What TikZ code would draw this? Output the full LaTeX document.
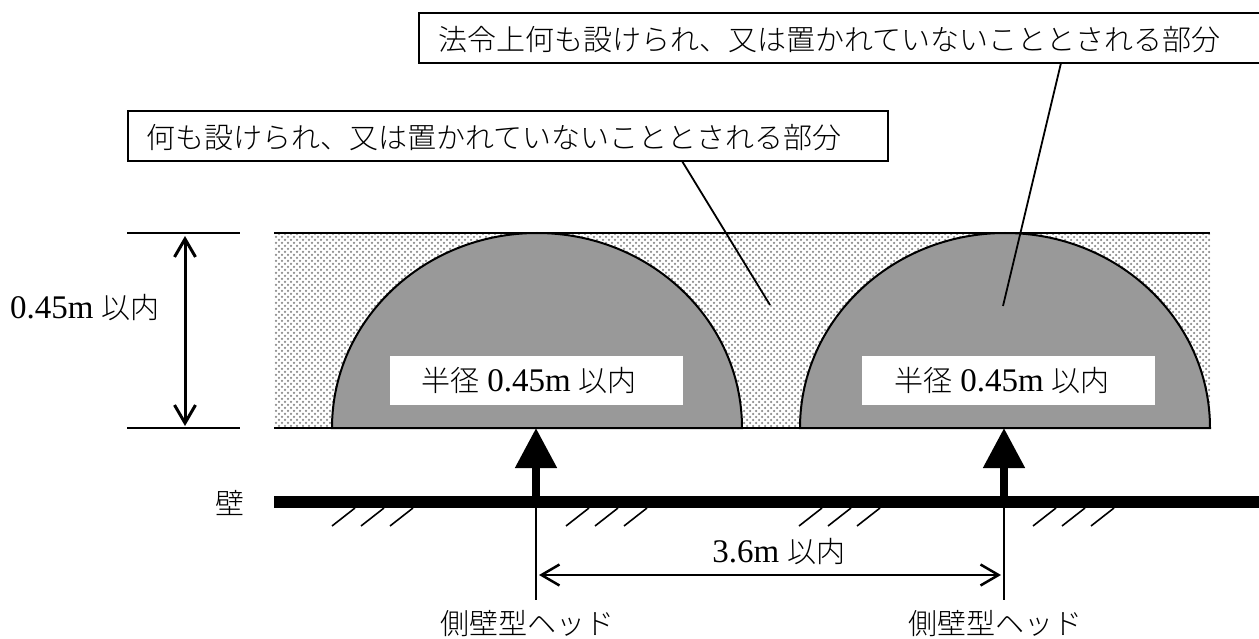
\documentclass[tikz,border=0pt]{standalone}
\usepackage{fontspec}
\setmainfont{Liberation Serif}
\newfontfamily\cjk[UprightFont=* Light]{Noto Sans CJK JP}
\usetikzlibrary{arrows.meta,patterns.meta}
\newcommand{\jp}[1]{{\fontsize{29}{29}\selectfont\cjk #1}}
\tikzset{
    label box/.style={draw,line width=2,fill=white,anchor=west,minimum height=50,inner xsep=0,inner ysep=0,text depth=0},
    white box/.style={fill=white,minimum width=293,minimum height=49,font=\fontsize{33}{33}\selectfont},
    plain text/.style={font=\fontsize{33}{33}\selectfont},
    dim line/.style={line width=2.5},
    dim arrow/.style={line width=3,{Straight Barb[length=18,width=21,line width=3]}-{Straight Barb[length=18,width=21,line width=3]}},
    span arrow/.style={line width=2.2,{Straight Barb[length=18,width=21,line width=2.5]}-{Straight Barb[length=18,width=21,line width=2.5]}},
    head arrow/.style={line width=8,-{Triangle[length=40,width=40]},shorten >=0},
    hatch/.style={line width=1.6},
}
\begin{document}
\begin{tikzpicture}[x=1pt,y=-1pt]
    \useasboundingbox (0,0) rectangle (1259,639);

    % band and dome areas
    \coordinate (bandtl) at (274,233);
    \coordinate (bandbr) at (1210,428);
    \fill[pattern={Dots[distance=6pt,radius=1.25pt]},pattern color=black!45] (bandtl) rectangle (bandbr);
    \fill[pattern={Dots[distance=6pt,radius=1.25pt,xshift=3pt,yshift=3pt]},pattern color=black!45] (bandtl) rectangle (bandbr);
    \draw[line width=2] (bandtl) -- (bandtl -| bandbr);
    \draw[line width=2] (bandtl |- bandbr) -- (bandbr);
    \foreach \domex in {332,800} {
        \draw[line width=2,fill=black!40] (\domex,428) arc[start angle=180,end angle=360,x radius=205,y radius=195] -- cycle;
    }
    \node[white box] (radl) at (536.5,380.5) {\jp{半径} 0.45m \jp{以内}\kern15pt};
    \node[white box] (radr) at (1008.5,380.5) {\jp{半径} 0.45m \jp{以内}\kern13pt};

    % boxes
    \node[label box,minimum width=900,text width=900,align=left] (boxa) at (418,38) {\hspace{19pt}\jp{法令上何も設けられ、又は置かれていないこととされる部分}};
    \node[label box,minimum width=760,text width=760,align=left] (boxb) at (127,136) {\hspace{18pt}\jp{何も設けられ、又は置かれていないこととされる部分}};
    \coordinate (boxafoot) at (1061,63);
    \coordinate (boxbfoot) at (682,161);
    \coordinate (tipa) at (1003,306);
    \coordinate (tipb) at (770,305);
    \draw[line width=1.8] (boxafoot) -- (tipa);
    \draw[line width=1.8] (boxbfoot) -- (tipb);

    % height
    \coordinate (tl) at (127,233);
    \coordinate (bl) at (127,428);
    \draw[dim line] (tl) -- (240,233);
    \draw[dim line] (bl) -- (240,428);
    \coordinate (ht) at (185,236);
    \coordinate (hb) at (185,426);
    \draw[dim arrow] (ht) -- (hb);
    \node[plain text,anchor=west,inner sep=0] (htext) at (10,308) {0.45m \jp{以内}};

    % wall
    \node[inner sep=0] (wall) at (230,503) {\jp{壁}};
    \coordinate (wallw) at (274,502);
    \coordinate (walle) at (1259,502);
    \draw[line width=12] (wallw) -- (walle);
    \foreach \hx in {332,361,390,566,595,624,799,828,857,1033,1062,1091} {
        \draw[hatch] (\hx,526) -- ++(23,-18);
    }

    % heads
    \coordinate (hl) at (536,500);
    \coordinate (hr) at (1004,500);
    \draw[head arrow] (hl) -- (536,428);
    \draw[head arrow] (hr) -- (1004,428);
    \draw[line width=2] (hl) -- (536,600);
    \draw[line width=2] (hr) -- (1004,600);
    \draw[span arrow] (539,575) -- (1001,575);
    \node[plain text,inner sep=0] (span) at (779,552) {3.6m \jp{以内}};
    \node[inner sep=0] (heada) at (527,624) {\jp{側壁型ヘッド}};
    \node[inner sep=0] (headb) at (995,624) {\jp{側壁型ヘッド}};
\end{tikzpicture}
\end{document}
